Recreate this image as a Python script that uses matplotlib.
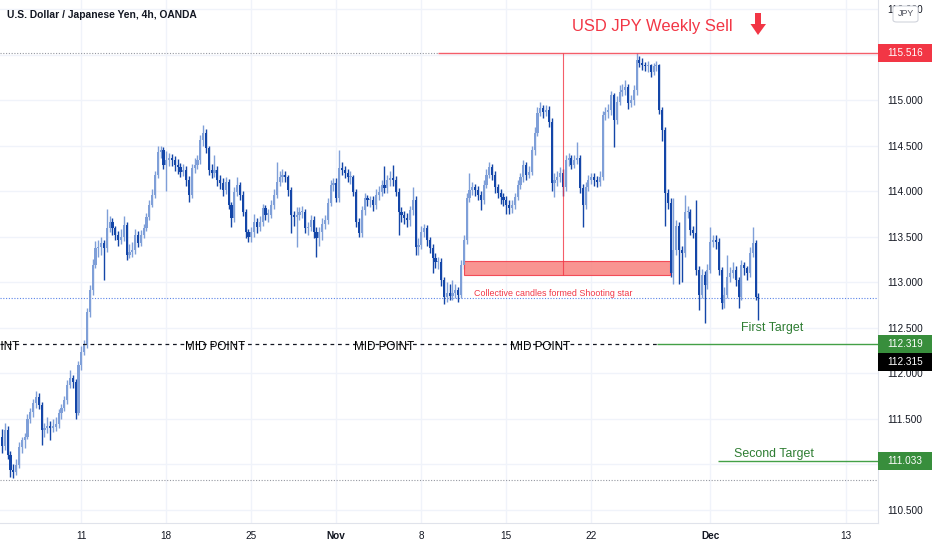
import matplotlib
matplotlib.use("Agg")
import matplotlib.pyplot as plt
from matplotlib import font_manager
from matplotlib.patches import Rectangle, Polygon, FancyBboxPatch
from matplotlib.transforms import blended_transform_factory
import numpy as np
import pandas as pd

# ---------------- data ----------------
first_open = 111.30
closes = [
 111.20,111.37,111.10,110.93,110.91,110.99,111.19,111.26,111.30,111.50,
 111.57,111.67,111.74,111.65,111.37,111.40,111.41,111.40,111.41,111.44,
 111.56,111.62,111.70,111.87,111.95,111.90,111.56,112.09,112.23,112.31,
 112.67,112.91,113.19,113.37,113.38,113.43,113.37,113.59,113.66,113.59,
 113.52,113.46,113.49,113.63,113.30,113.33,113.35,113.52,113.43,113.52,
 113.59,113.71,113.85,113.96,114.18,114.43,114.45,114.29,114.34,114.36,
 114.34,114.29,114.26,114.21,114.23,114.12,113.96,114.25,114.29,114.34,
 114.56,114.64,114.47,114.23,114.20,114.23,114.12,114.09,114.01,114.10,
 113.85,113.70,113.99,114.07,113.96,113.77,113.55,113.49,113.55,113.66,
 113.60,113.66,113.81,113.74,113.74,113.85,113.96,114.10,114.15,114.18,
 114.15,114.01,113.74,113.71,113.74,113.77,113.77,113.59,113.61,113.68,
 113.55,113.48,113.55,113.64,113.68,113.87,114.07,114.09,113.92,114.25,
 114.23,114.20,114.15,114.15,113.99,113.66,113.54,113.79,113.92,113.90,
 113.90,113.85,113.96,113.99,114.07,114.03,114.12,114.14,114.12,113.99,
 113.77,113.74,113.70,113.68,113.79,113.90,113.38,113.41,113.55,113.59,
 113.46,113.37,113.26,113.22,113.22,113.02,112.84,112.88,112.85,112.88,
 112.91,112.86,113.19,113.46,113.92,114.01,114.04,114.01,113.96,113.90,
 114.07,114.18,114.26,114.18,114.04,113.98,113.93,113.90,113.85,113.81,
 113.85,113.93,114.07,114.15,114.29,114.18,114.21,114.45,114.64,114.86,
 114.91,114.87,114.89,114.76,114.09,114.12,114.15,114.20,114.04,114.34,
 114.36,114.29,114.34,114.36,114.03,113.85,114.04,114.12,114.15,114.12,
 114.10,114.15,114.84,114.87,114.89,115.05,114.78,114.98,115.09,115.11,
 115.14,114.97,115.00,115.11,115.44,115.41,115.38,115.37,115.38,115.31,
 115.37,115.38,114.89,114.67,113.98,113.87,113.10,113.35,113.62,113.35,
 113.32,113.77,113.77,113.57,113.54,113.13,112.86,113.08,112.97,113.13,
 113.44,113.46,113.44,113.13,112.77,112.86,113.05,113.10,113.13,113.02,
 112.84,113.19,113.15,113.10,113.32,113.43,112.84,112.82]
highs = [
 111.38,111.45,111.42,111.14,111.00,111.05,111.24,111.30,111.34,111.55,
 111.62,111.72,111.80,111.78,111.68,111.45,111.52,111.47,111.50,111.52,
 111.60,111.66,111.75,111.92,112.03,111.98,111.93,112.13,112.30,112.36,
 112.72,112.97,113.25,113.45,113.46,113.50,113.46,113.80,113.72,113.70,
 113.62,113.56,113.58,113.72,113.66,113.42,113.44,113.58,113.56,113.57,
 113.64,113.76,113.90,114.02,114.22,114.50,114.50,114.48,114.44,114.42,
 114.41,114.38,114.35,114.31,114.30,114.27,114.16,114.30,114.36,114.40,
 114.62,114.72,114.68,114.50,114.30,114.40,114.28,114.18,114.14,114.15,
 114.13,113.88,114.04,114.15,114.10,114.00,113.80,113.58,113.60,113.75,
 113.70,113.72,113.86,113.85,113.80,113.90,114.02,114.32,114.22,114.24,
 114.22,114.18,114.04,113.78,113.82,113.82,113.84,113.80,113.66,113.74,
 113.72,113.60,113.60,113.70,113.74,113.92,114.12,114.14,114.14,114.45,
 114.32,114.28,114.24,114.22,114.18,114.02,113.70,113.84,113.98,113.96,
 113.95,113.94,114.02,114.05,114.12,114.28,114.18,114.22,114.29,114.16,
 114.03,113.82,113.78,113.76,113.84,114.04,113.94,113.48,113.62,113.64,
 113.63,113.50,113.42,113.32,113.28,113.26,113.06,113.00,112.98,113.02,
 112.98,112.95,113.24,113.52,113.98,114.20,114.10,114.08,114.06,114.00,
 114.12,114.24,114.32,114.30,114.22,114.08,114.02,113.98,113.94,113.90,
 113.90,113.98,114.12,114.20,114.34,114.32,114.28,114.50,114.70,114.92,
 114.98,114.95,114.94,114.93,114.80,114.20,114.22,114.26,114.24,114.40,
 114.42,114.40,114.40,114.54,114.40,114.08,114.10,114.18,114.20,114.20,
 114.16,114.22,114.88,114.92,114.96,115.10,115.08,115.04,115.16,115.18,
 115.22,115.18,115.06,115.16,115.516,115.48,115.46,115.42,115.43,115.40,
 115.41,115.43,115.40,114.92,114.70,114.02,113.92,113.92,113.68,113.66,
 113.40,113.96,113.84,113.80,113.62,113.90,113.18,113.14,113.12,113.20,
 113.60,113.52,113.52,113.48,113.16,112.94,113.30,113.16,113.22,113.18,
 113.06,113.24,113.22,113.18,113.38,113.60,113.46,112.88]
lows = [
 111.12,111.15,111.05,110.86,110.85,110.88,110.96,111.12,111.18,111.27,
 111.45,111.52,111.62,111.60,111.21,111.30,111.34,111.26,111.35,111.36,
 111.40,111.50,111.58,111.66,111.84,111.84,111.50,111.54,112.03,112.20,
 112.27,112.62,112.86,113.15,113.28,113.30,113.02,113.33,113.55,113.52,
 113.46,113.40,113.42,113.45,113.24,113.26,113.28,113.31,113.38,113.40,
 113.48,113.56,113.68,113.82,113.92,114.14,114.36,114.24,114.00,114.28,
 114.27,114.22,114.19,114.15,114.16,114.06,113.88,113.92,114.20,114.24,
 114.30,114.50,114.42,114.18,114.14,114.15,114.06,114.02,113.94,113.97,
 113.80,113.60,113.66,113.94,113.90,113.72,113.48,113.44,113.44,113.50,
 113.54,113.56,113.62,113.68,113.66,113.70,113.80,113.92,114.06,114.10,
 114.10,113.95,113.54,113.62,113.38,113.68,113.70,113.54,113.52,113.56,
 113.48,113.27,113.40,113.46,113.58,113.64,113.84,114.00,113.88,113.88,
 114.18,114.14,114.10,114.08,113.94,113.60,113.50,113.50,113.74,113.84,
 113.82,113.78,113.80,113.90,113.95,113.98,113.98,114.06,114.06,113.94,
 113.52,113.66,113.64,113.60,113.62,113.74,113.30,113.30,113.36,113.50,
 113.40,113.32,113.10,113.15,113.14,112.96,112.76,112.78,112.80,112.80,
 112.82,112.78,112.82,113.14,113.42,113.88,113.96,113.94,113.90,113.79,
 113.86,114.03,114.14,114.12,113.98,113.92,113.86,113.84,113.75,113.75,
 113.76,113.80,113.90,114.02,114.10,114.12,114.14,114.18,114.40,114.60,
 114.82,114.80,114.82,114.70,114.00,113.93,114.06,114.10,113.95,114.00,
 114.28,114.24,114.25,114.30,113.98,113.60,113.80,114.00,114.08,114.06,
 114.04,114.06,114.12,114.78,114.80,114.84,114.48,114.74,114.94,115.04,
 115.06,114.90,114.92,114.95,115.06,115.36,115.33,115.32,115.31,115.25,
 115.28,115.32,114.85,114.55,113.62,113.80,113.06,112.98,113.30,112.98,
 113.00,113.28,113.70,113.52,113.48,113.08,112.69,112.82,112.55,112.92,
 113.10,113.38,113.36,113.08,112.70,112.72,112.82,113.00,113.04,112.96,
 112.72,112.80,113.08,113.02,113.06,113.28,112.80,112.58]

ytick_values = [110.5, 111.0, 111.5, 112.0, 112.5, 113.0, 113.5, 114.0, 114.5, 115.0, 115.5, 116.0]
ytick_hidden = [111.0, 115.5]   # covered by the target / sell labels in the reference
date_labels = ["11", "18", "25", "Nov", "8", "15", "22", "Dec", "13"]
date_values = ["2021-10-11", "2021-10-18", "2021-10-25", "2021-11-01", "2021-11-08",
               "2021-11-15", "2021-11-22", "2021-12-01", "2021-12-13"]

sell_level = 115.516
first_target = 112.319
current_label = 112.315
second_target = 111.033
last_price = 112.82
range_low = 110.824
box_low, box_high = 113.08, 113.23

# ---------------- fonts ----------------
def has_font(name):
    try:
        font_manager.findfont(name, fallback_to_default=False)
        return True
    except Exception:
        return False

NARROW = "Liberation Sans Narrow" if has_font("Liberation Sans Narrow") else "Liberation Sans"
scale = 1.0 if NARROW == "Liberation Sans Narrow" else 0.85
plt.rcParams['font.family'] = [NARROW, 'DejaVu Sans']

# ---------------- timeline ----------------
times = pd.date_range("2021-10-04 08:00", "2021-12-20 00:00", freq="4h")
times = times[times.dayofweek < 5]
tick_pos = [int(times.get_loc(pd.Timestamp(d))) for d in date_values]

n = len(closes)
idx = np.arange(n)
c = np.array(closes)
o = np.concatenate([[first_open], c[:-1]])
h = np.array(highs)
l = np.array(lows)

W, H = 932, 550
fig = plt.figure(figsize=(W / 100, H / 100), dpi=100)
fig.patch.set_facecolor("white")
ax = fig.add_axes([0, 27 / H, 878 / W, 523 / H])
x_left, x_right = -0.7, 309.2
ax.set_xlim(x_left, x_right)
ax.set_ylim(110.352, 116.099)

TXT = "#131722"
RED = "#F23645"
GREEN = "#388E3C"
GRID = "#F0F3FA"

for s in ["top", "left"]:
    ax.spines[s].set_visible(False)
for s in ["right", "bottom"]:
    ax.spines[s].set_color("#E0E3EB")

ax.set_yticks(ytick_values)
ax.set_yticklabels(["" if v in ytick_hidden else f"{v:.3f}" for v in ytick_values])
ax.yaxis.tick_right()
ax.tick_params(axis="y", length=0, pad=6.5, labelsize=8.5 * scale, labelcolor=TXT)
ax.set_xticks(tick_pos)
ax.set_xticklabels(date_labels)
ax.tick_params(axis="x", length=0, pad=6, labelsize=8.5 * scale, labelcolor=TXT)
for lab in ax.get_xticklabels():
    if lab.get_text() in ("Nov", "Dec"):
        lab.set_fontweight("bold")
ax.grid(True, color=GRID, linewidth=1)
ax.set_axisbelow(True)

# candles
UP, DOWN = "#7F9FD8", "#1446A8"
cols = np.where(c >= o, UP, DOWN)
ax.vlines(idx, l, h, colors=cols, linewidth=1.0, zorder=2)
body_lo = np.minimum(o, c)
body_h = np.maximum(np.abs(c - o), 0.014)
ax.bar(idx, body_h, bottom=body_lo, width=0.74, color=cols, linewidth=0, zorder=3)

# lines
ax.hlines(range_low, x_left, x_right, colors="#9598A1", linestyles=(0, (1, 1.5)), linewidth=0.8, zorder=1.5)
ax.hlines(sell_level, x_left, 153.9, colors="#9598A1", linestyles=(0, (1, 1.5)), linewidth=0.8, zorder=1.5)
ax.hlines(last_price, x_left, x_right, colors="#5B84E8", linestyles=(0, (1, 1.5)), linewidth=0.8, zorder=1.5)
ax.hlines(sell_level, 153.9, x_right, colors=RED, linewidth=1.0, alpha=0.8, zorder=4)
ax.vlines(198.0, box_low, sell_level, colors=RED, linewidth=0.8, alpha=0.8, zorder=4)
ax.add_patch(Rectangle((163.0, box_low), 235.8 - 163.0, box_high - box_low,
                       facecolor="#F8837F", edgecolor=RED, linewidth=0.8, alpha=0.85, zorder=2.5))
ax.text(166.5, 112.87, "Collective candles formed Shooting star", color=RED,
        fontsize=7.5 * scale, va="center", ha="left", zorder=5)

# mid point
ax.hlines(first_target, x_left, 231.2, colors=TXT, linestyles=(0, (3, 3)), linewidth=0.9, zorder=4)
for xm in [-4.6, 75.2, 134.8, 189.9]:
    ax.text(xm, 112.29, "MID POINT", color="#000000", fontsize=9.8 * scale, ha="center", va="center",
            zorder=5, clip_on=False)

# targets
ax.hlines(first_target, 231.2, x_right, colors="#43A047", linewidth=1.0, zorder=4)
ax.hlines(second_target, 252.7, x_right, colors="#43A047", linewidth=1.0, zorder=4)
ax.text(272.0, 112.50, "First Target", color="#2E7D32", fontsize=10.5 * scale, ha="center", va="center", zorder=5)
ax.text(272.5, 111.11, "Second Target", color="#2E7D32", fontsize=10.5 * scale, ha="center", va="center", zorder=5)

# right axis label boxes
trans = blended_transform_factory(ax.transAxes, ax.transData)
bw = 54 / 878
bh = 0.198
for val, shown, col in [(sell_level, sell_level, RED), (first_target, first_target, GREEN),
                        (first_target - bh, current_label, "#000000"), (second_target, second_target, GREEN)]:
    ax.add_patch(Rectangle((1.0, val - bh / 2), bw, bh, transform=trans, clip_on=False,
                           facecolor=col, edgecolor="none", zorder=10))
    ax.text(1.0 + bw / 2, val, f"{shown:.3f}", transform=trans, color="white", ha="center",
            va="center", fontsize=8.5 * scale, zorder=11, clip_on=False)

# JPY box
fig.patches.append(FancyBboxPatch((893 / W, 1 - 22 / H), 25 / W, 16 / H,
                                  boxstyle="round,pad=0,rounding_size=0.004",
                                  transform=fig.transFigure, facecolor="white",
                                  edgecolor="#D1D4DC", linewidth=0.8, zorder=20))
fig.text(905.5 / W, 1 - 14 / H, "JPY", color="#50535E", fontsize=7.5 * scale,
         ha="center", va="center", zorder=21)

# title and headline
fig.text(7 / W, 1 - 15 / H, "U.S. Dollar / Japanese Yen, 4h, OANDA", color=TXT,
         fontsize=8.7 * scale, fontweight="bold", ha="left", va="center")
fig.text(652 / W, 1 - 26 / H, "USD JPY Weekly Sell", color=RED, fontsize=14 * scale,
         ha="center", va="center")
arrow = [(755, 13), (761, 13), (761, 24), (766, 24), (758, 35), (750.5, 24), (755, 24)]
fig.patches.append(Polygon([(x / W, 1 - y / H) for x, y in arrow], closed=True,
                           transform=fig.transFigure, facecolor=RED, edgecolor="none"))

fig.savefig("out.png", dpi=100, facecolor="white")
